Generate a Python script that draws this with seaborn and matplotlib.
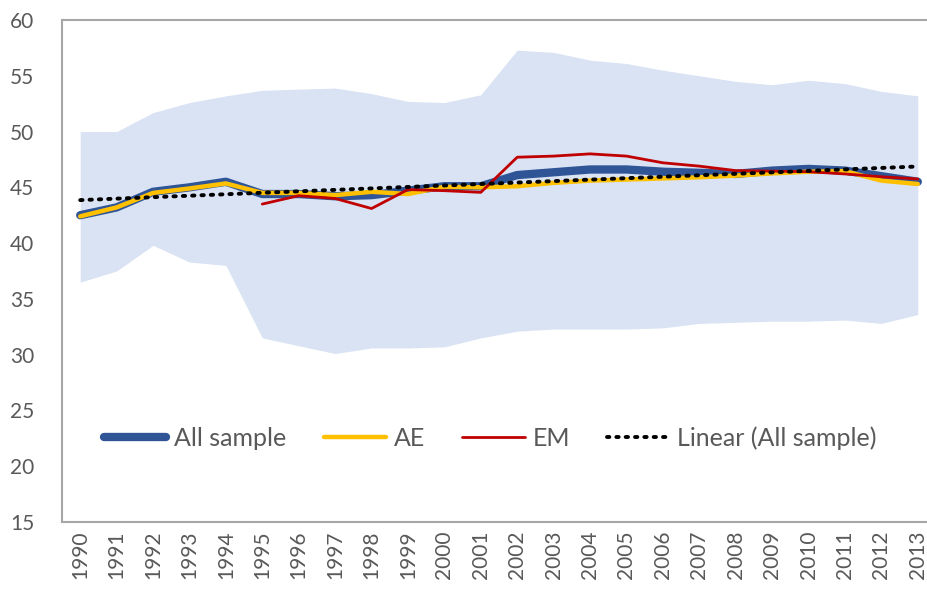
import matplotlib
matplotlib.use("Agg")
import matplotlib.pyplot as plt
import seaborn as sns
import numpy as np
import pandas as pd

# values
years = list(range(1990, 2014))
upper = [50.0, 50.0, 51.7, 52.6, 53.2, 53.7, 53.8, 53.9, 53.4, 52.7, 52.6, 53.3,
         57.3, 57.1, 56.4, 56.1, 55.5, 55.0, 54.5, 54.2, 54.6, 54.3, 53.6, 53.2]
lower = [36.5, 37.5, 39.8, 38.3, 38.0, 31.5, 30.8, 30.1, 30.6, 30.6, 30.7, 31.5,
         32.1, 32.3, 32.3, 32.3, 32.4, 32.8, 32.9, 33.0, 33.0, 33.1, 32.8, 33.6]
all_sample = [42.5, 43.2, 44.6, 45.0, 45.5, 44.4, 44.4, 44.2, 44.3, 44.7, 45.1, 45.1,
              46.1, 46.35, 46.6, 46.6, 46.4, 46.3, 46.2, 46.5, 46.65, 46.5, 46.0, 45.5]
ae = [42.4, 43.2, 44.5, 44.9, 45.35, 44.5, 44.5, 44.3, 44.6, 44.4, 45.05, 45.0,
      45.1, 45.4, 45.6, 45.7, 45.8, 45.9, 46.05, 46.25, 46.4, 46.45, 45.6, 45.3]
em = [np.nan] * 5 + [43.5, 44.25, 44.0, 43.1, 44.8, 44.7, 44.55, 47.7, 47.8, 48.0,
                     47.8, 47.2, 46.9, 46.5, 46.45, 46.4, 46.2, 45.95, 45.75]

df = pd.DataFrame({"year": years, "upper": upper, "lower": lower,
                   "All sample": all_sample, "AE": ae, "EM": em})

sns.set_style("white")
plt.rcParams["font.family"] = ["Lato", "DejaVu Sans"]
grey = "#595959"

fig = plt.figure(figsize=(9.28, 5.94), dpi=100)
ax = fig.add_axes([62 / 928, 1 - 522 / 594, 874 / 928, 502 / 594])

ax.fill_between(df["year"], df["lower"], df["upper"], color="#DAE3F3", lw=0, zorder=1)
sns.lineplot(data=df, x="year", y="All sample", ax=ax, color="#2F5597", lw=6,
             label="All sample", zorder=2)
sns.lineplot(data=df, x="year", y="AE", ax=ax, color="#FFC000", lw=3.2,
             label="AE", zorder=3)
sns.lineplot(data=df, x="year", y="EM", ax=ax, color="#C00000", lw=2,
             label="EM", zorder=4)
# Excel-style linear trendline of the "All sample" series
sns.regplot(data=df, x="year", y="All sample", ax=ax, scatter=False, ci=None,
            label="Linear (All sample)",
            line_kws=dict(color="black", lw=2.8, ls=(0, (0.6, 1.8)),
                          dash_capstyle="round", zorder=5))

ax.set_xlim(1989.5, 2013.5)
ax.set_ylim(15, 60)
ax.set_yticks(range(15, 61, 5))
ax.set_xticks(years)
ax.set_xticklabels([str(y) for y in years], rotation=90)
ax.set_xlabel("")
ax.set_ylabel("")
ax.tick_params(axis="both", length=0, labelsize=15, colors=grey)
ax.tick_params(axis="y", pad=20)
ax.tick_params(axis="x", pad=6)

for side in ["left", "top", "bottom", "right"]:
    ax.spines[side].set_color("#A6A6A6")
    ax.spines[side].set_linewidth(1.5)

leg = ax.legend(loc="center", bbox_to_anchor=(0.49, 0.167), ncol=4, frameon=False,
                fontsize=18, handlelength=2.5, columnspacing=1.5, handletextpad=0.3)
for t in leg.get_texts():
    t.set_color(grey)

fig.savefig("out.png", dpi=100)
